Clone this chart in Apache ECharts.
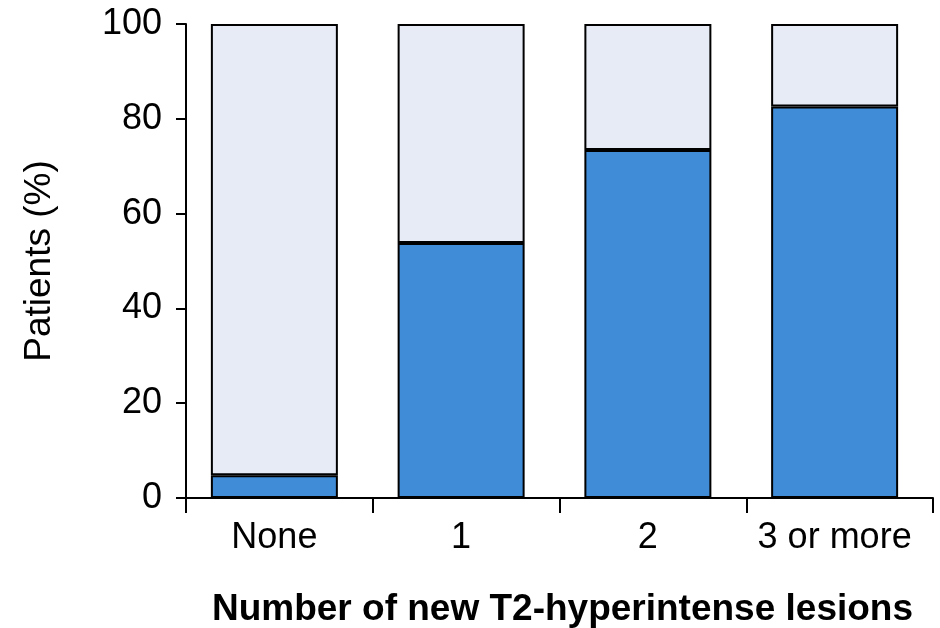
<!DOCTYPE html>
<html>
<head>
<meta charset="utf-8">
<script src="https://cdn.jsdelivr.net/npm/echarts@6/dist/echarts.min.js"></script>
<style>
  html, body { margin: 0; padding: 0; background: #fff; }
  #chart { width: 940px; height: 628px; }
</style>
</head>
<body>
<div id="chart"></div>
<script>
// Share of patients by number of new T2-hyperintense lesions
const categories = ['None', '1', '2', '3 or more'];
const positivePct = [4.8, 53.8, 73.4, 82.6];
const yTicks = { min: 0, max: 100, interval: 20 };

// remainder of each bar up to 100 %
const remainderPct = positivePct.map(v => +(100 - v).toFixed(1));

const FONT = '"Liberation Sans", Arial, Helvetica, sans-serif';
const chart = echarts.init(document.getElementById('chart'));

const barStyle = (fill) => ({ color: fill, borderColor: '#000', borderWidth: 2 });

chart.setOption({
  animation: false,
  backgroundColor: '#ffffff',
  grid: [
    // frame with the visible axis lines and ticks
    { left: 186, right: 7, top: 24, bottom: 130, containLabel: false, outerBoundsMode: 'none' },
    // bars and category labels sit slightly left of the tick centres
    { left: 181, right: 12, top: 24, bottom: 130, containLabel: false, outerBoundsMode: 'none' }
  ],
  xAxis: [
    {
      gridIndex: 0,
      type: 'category',
      data: categories,
      name: 'Number of new T2-hyperintense lesions',
      nameLocation: 'middle',
      nameGap: 93,
      nameTextStyle: { fontFamily: FONT, fontSize: 37, fontWeight: 'bold', color: '#000', padding: [0, 0, 0, 6] },
      axisLine: { lineStyle: { color: '#000', width: 2 } },
      axisTick: { show: true, interval: 0, length: 15, lineStyle: { color: '#000', width: 2 } },
      axisLabel: { show: false }
    },
    {
      gridIndex: 1,
      type: 'category',
      data: categories,
      axisLine: { show: false },
      axisTick: { show: false },
      axisLabel: { interval: 0, margin: 22, fontFamily: FONT, fontSize: 36, color: '#000' }
    }
  ],
  yAxis: [
    {
      gridIndex: 0,
      type: 'value',
      min: yTicks.min,
      max: yTicks.max,
      interval: yTicks.interval,
      name: 'Patients (%)',
      nameLocation: 'middle',
      nameRotate: 90,
      nameGap: 128,
      nameTextStyle: { fontFamily: FONT, fontSize: 37, color: '#000' },
      axisLine: { show: true, lineStyle: { color: '#000', width: 2 } },
      axisTick: { show: true, length: 10, lineStyle: { color: '#000', width: 2 } },
      axisLabel: { margin: 24, fontFamily: FONT, fontSize: 36, color: '#000' },
      splitLine: { show: false }
    },
    {
      gridIndex: 1,
      type: 'value',
      min: yTicks.min,
      max: yTicks.max,
      interval: yTicks.interval,
      show: false,
      splitLine: { show: false }
    }
  ],
  series: [
    {
      type: 'bar',
      xAxisIndex: 1,
      yAxisIndex: 1,
      stack: 'total',
      data: positivePct,
      barWidth: '68%',
      itemStyle: barStyle('#408CD7')
    },
    {
      type: 'bar',
      xAxisIndex: 1,
      yAxisIndex: 1,
      stack: 'total',
      data: remainderPct,
      barWidth: '68%',
      itemStyle: barStyle('#E7EBF5')
    }
  ]
});
</script>
</body>
</html>
